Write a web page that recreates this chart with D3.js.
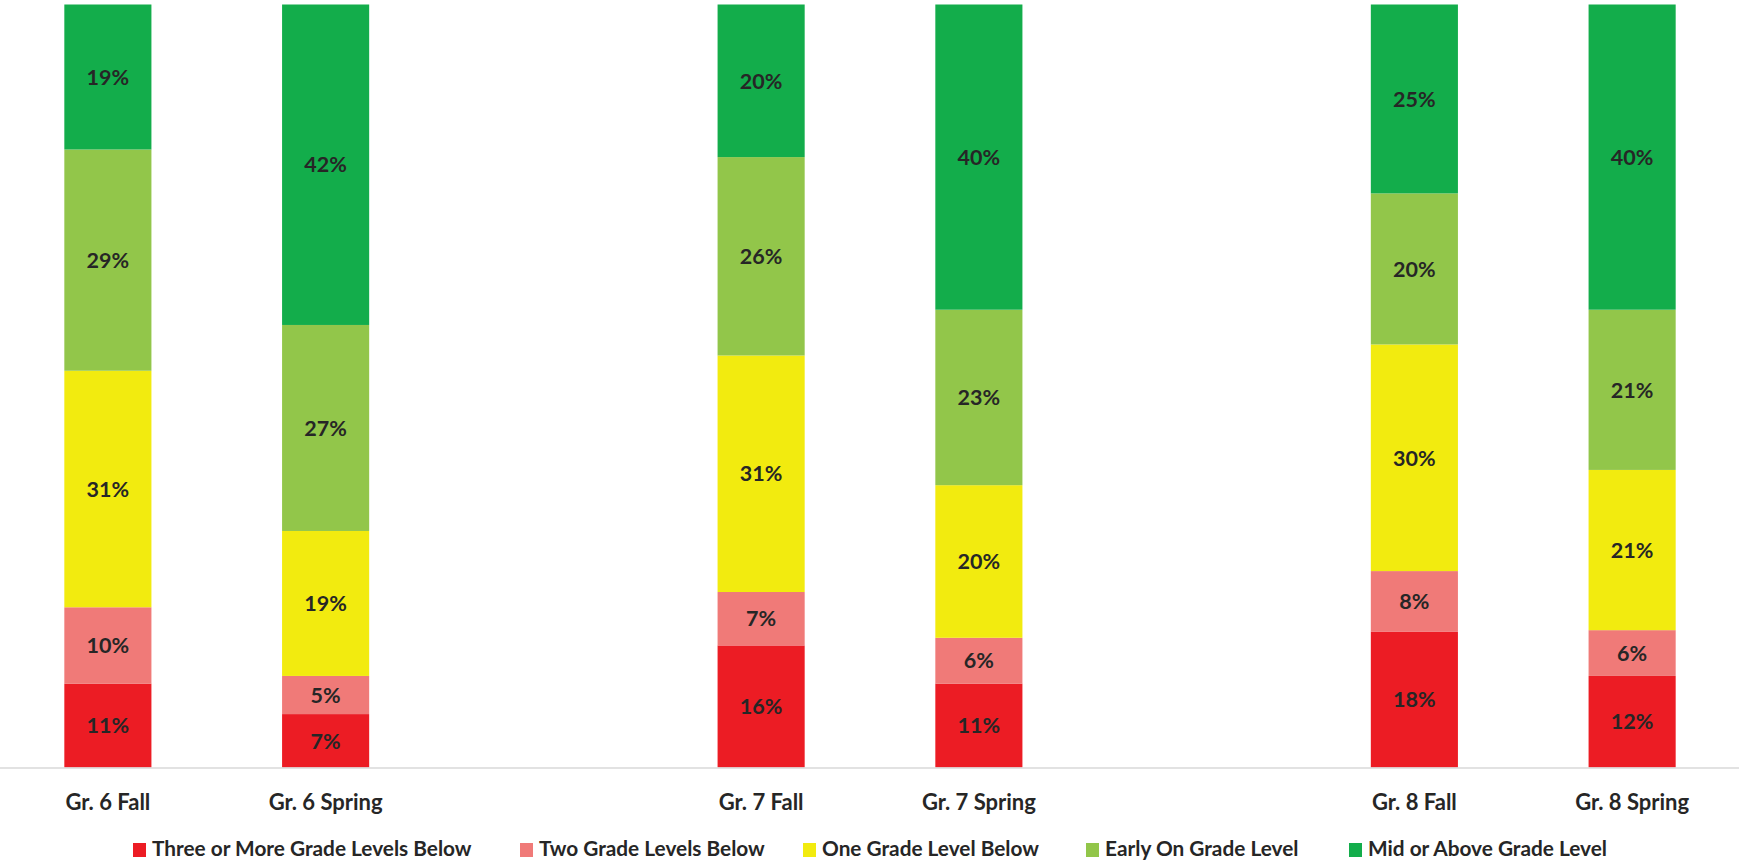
<!DOCTYPE html>
<html>
<head>
<meta charset="utf-8">
<script src="https://cdn.jsdelivr.net/npm/d3@7"></script>
<style>
  html, body { margin: 0; padding: 0; background: #fff; }
  svg { display: block; }
  text { font-family: Lato, "Open Sans", sans-serif; font-weight: 700; fill: #262626; }
</style>
</head>
<body>
<svg id="chart" width="1739" height="864"></svg>
<script>
// ---- data ----
const categories = ["Gr. 6 Fall", "Gr. 6 Spring", "Gr. 7 Fall", "Gr. 7 Spring", "Gr. 8 Fall", "Gr. 8 Spring"];
const slots = ["Gr. 6 Fall", "Gr. 6 Spring", "gap1", "Gr. 7 Fall", "Gr. 7 Spring", "gap2", "Gr. 8 Fall", "Gr. 8 Spring"];
const seriesNames = ["Three or More Grade Levels Below", "Two Grade Levels Below", "One Grade Level Below", "Early On Grade Level", "Mid or Above Grade Level"];
const threeOrMore = [11, 7, 16, 11, 18, 12];
const twoBelow    = [10, 5, 7, 6, 8, 6];
const oneBelow    = [31, 19, 31, 20, 30, 21];
const earlyOn     = [29, 27, 26, 23, 20, 21];
const midAbove    = [19, 42, 20, 40, 25, 40];
const colors = ["#EC1C24", "#F07A78", "#F2EB0F", "#92C64A", "#13AD4B"];

const seriesValues = [threeOrMore, twoBelow, oneBelow, earlyOn, midAbove];
const table = categories.map((c, i) => {
  const row = { category: c };
  seriesNames.forEach((s, j) => row[s] = seriesValues[j][i]);
  return row;
});

const svg = d3.select("#chart");
const W = 1739;
const x = d3.scaleBand().domain(slots).range([-1, 1741]).paddingInner(0.6).paddingOuter(0.3);
const y = d3.scaleLinear().domain([0, 1]).range([767.5, 4.5]);
const color = d3.scaleOrdinal().domain(seriesNames).range(colors);

const stack = d3.stack().keys(seriesNames).offset(d3.stackOffsetExpand);
const stacked = stack(table);

const layers = svg.append("g").selectAll("g").data(stacked).join("g")
  .attr("fill", d => color(d.key));

layers.selectAll("rect").data(d => d).join("rect")
  .attr("x", d => x(d.data.category))
  .attr("width", x.bandwidth())
  .attr("y", d => y(d[1]))
  .attr("height", d => y(d[0]) - y(d[1]));

layers.selectAll("text").data(d => d.map(v => Object.assign(v, { key: d.key }))).join("text")
  .attr("x", d => x(d.data.category) + x.bandwidth() / 2)
  .attr("y", d => (y(d[0]) + y(d[1])) / 2)
  .attr("dy", "0.36em")
  .attr("text-anchor", "middle")
  .style("font-size", "21.5px")
  .text(d => d.data[d.key] + "%");

// baseline
svg.append("line")
  .attr("x1", 0).attr("x2", W)
  .attr("y1", y(0) + 0.5).attr("y2", y(0) + 0.5)
  .attr("stroke", "#d9d9d9").attr("stroke-width", 1.5);

// x axis
const axis = d3.axisBottom(x).tickValues(categories).tickSize(0).tickPadding(0);
const gx = svg.append("g").attr("transform", `translate(0, ${y(0)})`).call(axis);
gx.select(".domain").remove();
gx.selectAll("text")
  .attr("y", 42)
  .attr("dy", 0)
  .style("font-size", "22px")
  .style("font-family", "Lato, 'Open Sans', sans-serif")
  .style("font-weight", 700)
  .attr("fill", "#262626");

// legend
const legendX = [133, 520, 803, 1086, 1349];
const lg = svg.append("g").selectAll("g").data(seriesNames).join("g")
  .attr("transform", (d, i) => `translate(${legendX[i]}, 843)`);
lg.append("rect").attr("width", 13).attr("height", 14).attr("fill", d => color(d));
lg.append("text").attr("x", 19).attr("y", 13).style("font-size", "20.8px").text(d => d);
</script>
</body>
</html>
